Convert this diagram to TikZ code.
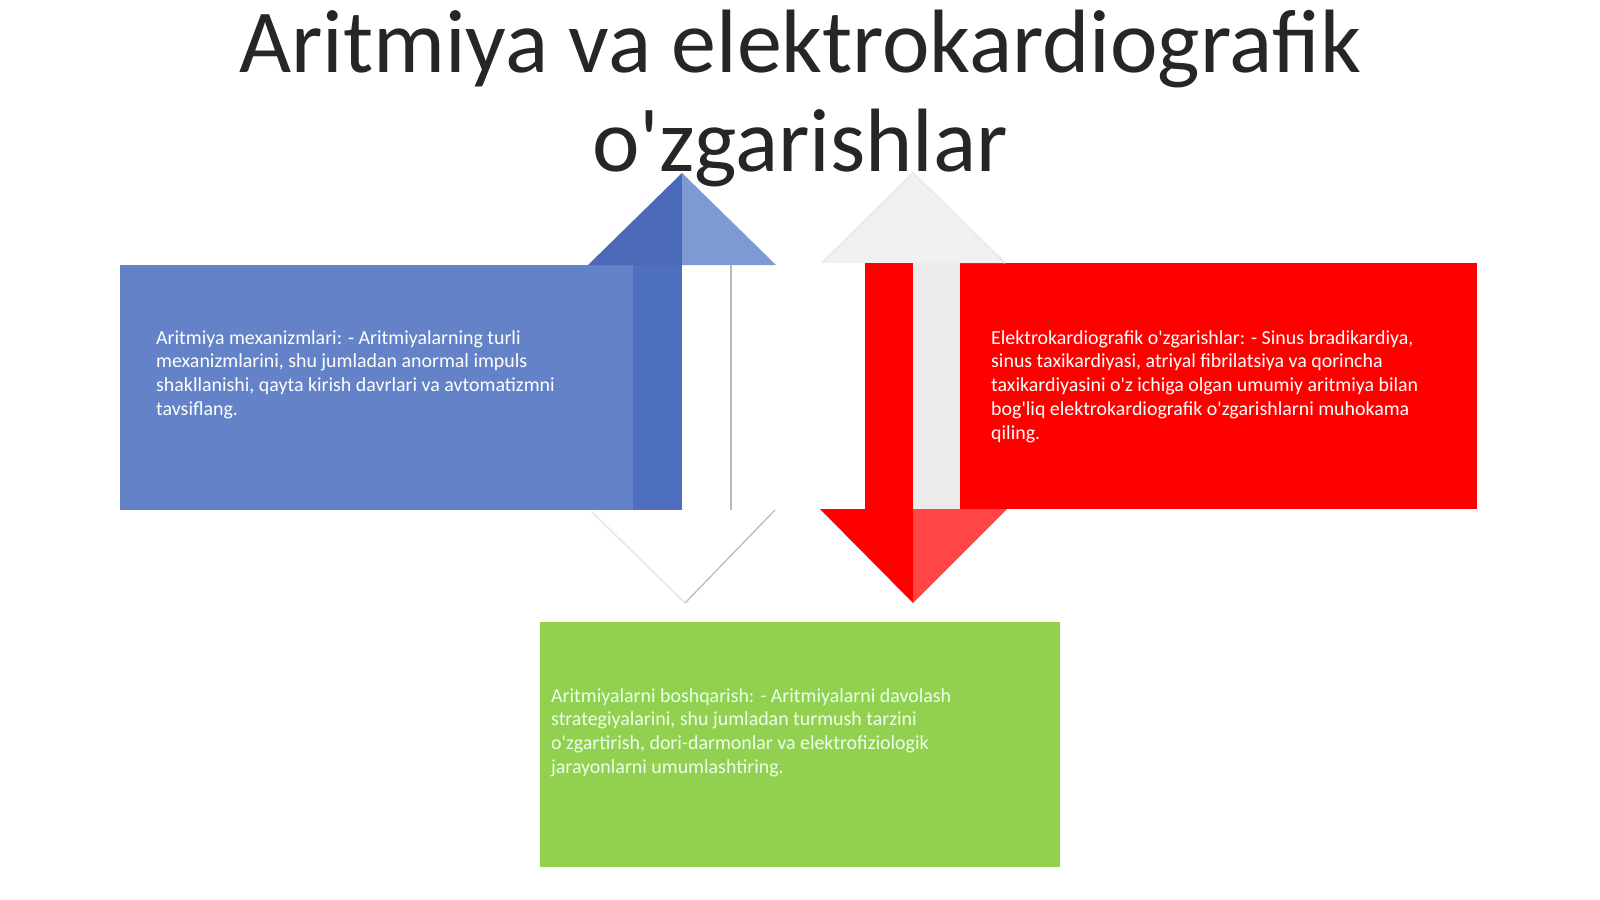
\documentclass[tikz,border=0pt]{standalone}
\usepackage{fontspec}
\setmainfont{Carlito}[Ligatures=TeXOff]
\definecolor{boxblue}{HTML}{6482C8}
\definecolor{darkblue}{HTML}{4E6EC0}
\definecolor{lightblue}{HTML}{7D9AD3}
\definecolor{boxred}{HTML}{FF0000}
\definecolor{lightred}{HTML}{FF4646}
\definecolor{shaftgray}{HTML}{EBEBEB}
\definecolor{headgray}{HTML}{F1F1F1}
\definecolor{boxgreen}{HTML}{92D050}
\definecolor{titlegray}{HTML}{262626}
\tikzset{
  panel/.style={draw=none, inner sep=0pt, anchor=north west, rectangle},
  bodytext/.style={anchor=north west, inner sep=0pt, align=left, text=white,
    font=\fontsize{19.9}{23.9}\selectfont},
  edgeline/.style={draw=black!28, line width=1.2pt},
  faintline/.style={draw=black!8, line width=2pt}
}
\begin{document}
\begin{tikzpicture}[x=1pt,y=-1pt]
\useasboundingbox (0,0) rectangle (1600,899);
\fill[white] (0,0) rectangle (1600,899);
% title
\node[anchor=base, inner sep=0pt, text=titlegray, font=\fontsize{90}{98}\selectfont] (title1) at (800,73) {Aritmiya va elektrokardiografik};
\node[anchor=base, inner sep=0pt, text=titlegray, font=\fontsize{90}{98}\selectfont] (title2) at (800,171) {o'zgarishlar};
% blue panel and up arrow
\node[panel, fill=boxblue, minimum width=562pt, minimum height=245pt] (bluebox) at (120,265) {};
\coordinate (bapex) at (682,173);
\coordinate (blowapex) at (685,603);
\fill[darkblue] (633,265) rectangle (682,510);
\fill[white] (682,265) rectangle (731,510);
\draw[edgeline] (731,265) -- (731,510);
\fill[darkblue!95!black] (588,265) -- (bapex) -- (682,265) -- cycle;
\fill[lightblue] (682,265) -- (bapex) -- (776,265) -- cycle;
% lower white head of the blue arrow
\fill[white] (590,510) -- (775,510) -- (blowapex) -- cycle;
\draw[faintline] (592,512) -- (blowapex);
\draw[edgeline] (775,510) -- (blowapex);
% red panel and down arrow
\node[panel, fill=boxred, minimum width=517pt, minimum height=246pt] (redbox) at (960,263) {};
\coordinate (rapex) at (913,173);
\coordinate (rlowapex) at (913,603);
\fill[headgray] (822,263) -- (rapex) -- (1005,263) -- cycle;
\draw[faintline] (822,263) -- (rapex) -- (1005,263);
\fill[boxred] (865,263) rectangle (913,509);
\fill[shaftgray] (913,263) rectangle (960,509);
\fill[boxred] (820,509) -- (rlowapex) -- (913,509) -- cycle;
\fill[lightred] (913,509) -- (rlowapex) -- (1007,509) -- cycle;
% green panel
\node[panel, fill=boxgreen, minimum width=520pt, minimum height=245pt] (greenbox) at (540,622) {};
% texts
\node[bodytext] (bluetext) at (156,330) {Aritmiya mexanizmlari: - Aritmiyalarning turli\\mexanizmlarini, shu jumladan anormal impuls\\shakllanishi, qayta kirish davrlari va avtomatizmni\\tavsiflang.};
\node[bodytext] (redtext) at (991,330) {Elektrokardiografik o'zgarishlar: - Sinus bradikardiya,\\sinus taxikardiyasi, atriyal fibrilatsiya va qorincha\\taxikardiyasini o'z ichiga olgan umumiy aritmiya bilan\\bog'liq elektrokardiografik o'zgarishlarni muhokama\\qiling.};
\node[bodytext, text=white!92!green] (greentext) at (551,688) {Aritmiyalarni boshqarish: - Aritmiyalarni davolash\\strategiyalarini, shu jumladan turmush tarzini\\o'zgartirish, dori-darmonlar va elektrofiziologik\\jarayonlarni umumlashtiring.};
\end{tikzpicture}
\end{document}
